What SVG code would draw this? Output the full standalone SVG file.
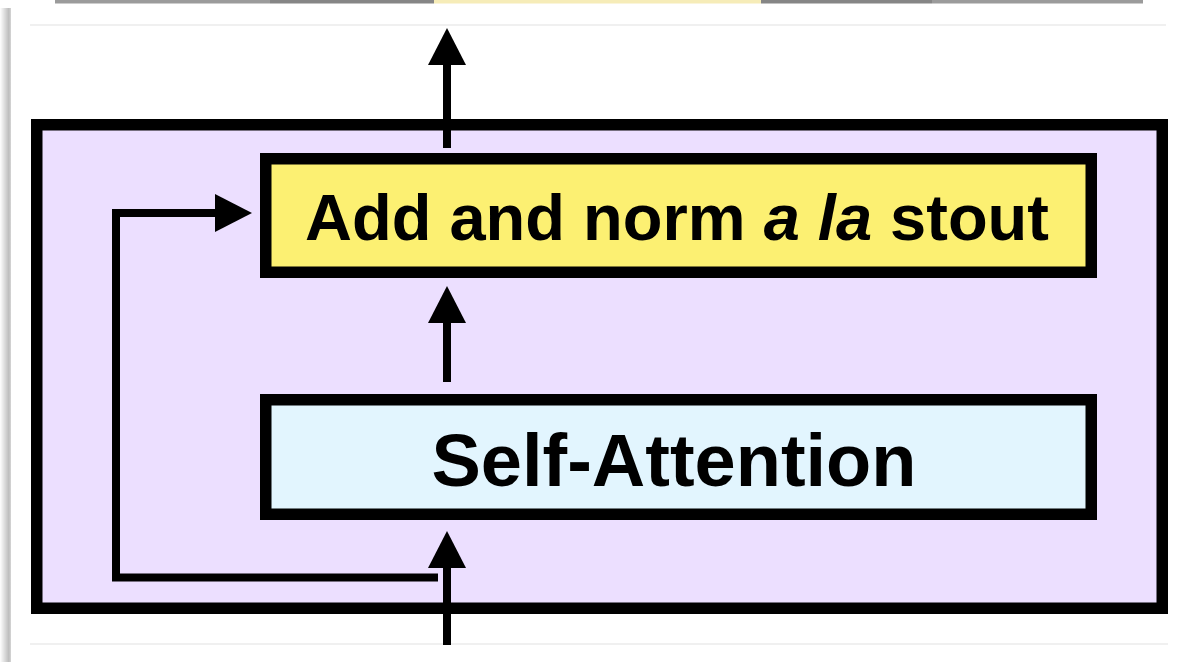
<svg xmlns="http://www.w3.org/2000/svg" width="1182" height="662" viewBox="0 0 1182 662">
  <style>
    .box { stroke: #000; stroke-width: 11.5; }
    .wire { fill: none; stroke: #000; stroke-width: 8; stroke-linejoin: miter; }
    .label { font-family: "Liberation Sans", Arial, sans-serif; font-weight: bold; fill: #000; text-anchor: middle; }
    .rule { stroke: #ebebeb; stroke-width: 1.5; }
  </style>
  <defs>
    <linearGradient id="edgeShade" x1="0" y1="0" x2="1" y2="0">
      <stop offset="0" stop-color="#ffffff"/>
      <stop offset="0.8" stop-color="#bdbdbd"/>
      <stop offset="1" stop-color="#d6d6d6"/>
    </linearGradient>
    <marker id="head" viewBox="0 0 37 38" markerWidth="37" markerHeight="38" refX="0" refY="19" orient="auto" markerUnits="userSpaceOnUse">
      <path d="M0,0 L37,19 L0,38 Z" fill="#000"/>
    </marker>
  </defs>

  <!-- page background -->
  <rect x="0" y="0" width="1182" height="662" fill="#ffffff"/>
  <rect x="0" y="8" width="11" height="654" fill="url(#edgeShade)"/>

  <!-- strip along the top edge -->
  <rect x="55" y="0" width="215" height="3.5" fill="#9b9b9b"/>
  <rect x="270" y="0" width="164" height="3.5" fill="#868686"/>
  <rect x="434" y="0" width="327" height="3.5" fill="#f6ecb8"/>
  <rect x="761" y="0" width="171" height="3.5" fill="#868686"/>
  <rect x="932" y="0" width="211" height="3.5" fill="#9b9b9b"/>

  <!-- panel rules -->
  <line class="rule" x1="30" y1="25" x2="1166" y2="25"/>
  <line class="rule" x1="30" y1="644" x2="1168" y2="644"/>

  <!-- enclosing block -->
  <g id="block">
    <rect class="box" x="36.75" y="124.75" width="1125.5" height="483.5" fill="#ecdfff"/>
  </g>

  <!-- Add and norm node -->
  <g id="add-norm">
    <rect class="box" x="265.75" y="158.75" width="825.5" height="113.5" fill="#fcf072"/>
    <text class="label" x="677" y="240" font-size="65">Add and norm <tspan font-style="italic">a la</tspan> stout</text>
  </g>

  <!-- Self-Attention node -->
  <g id="self-attention">
    <rect class="box" x="265.75" y="399.75" width="825.5" height="114.5" fill="#e2f5fe"/>
    <text class="label" x="674" y="486" font-size="74">Self-Attention</text>
  </g>

  <!-- connectors -->
  <g id="connectors">
    <path class="wire" d="M447,645 V568" marker-end="url(#head)"/>
    <path class="wire" d="M447,382 V323" marker-end="url(#head)"/>
    <path class="wire" d="M447,148 V65" marker-end="url(#head)"/>
    <path class="wire" d="M438,577.5 H116 V213 H215" marker-end="url(#head)"/>
  </g>
</svg>
